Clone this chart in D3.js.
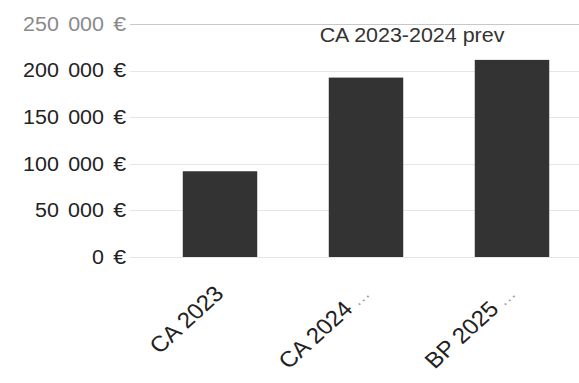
<!DOCTYPE html>
<html>
<head>
<meta charset="utf-8">
<script src="https://cdn.jsdelivr.net/npm/d3@7"></script>
<style>
  html, body { margin: 0; padding: 0; background: #fff; }
  svg { display: block; font-family: "Liberation Sans", Arial, sans-serif; }
</style>
</head>
<body>
<svg id="chart" width="579" height="383"></svg>
<script>
// Revenue by budget document
const categories = ["CA 2023", "CA 2024", "BP 2025"];
const truncated = [false, true, true];
const values = [92000, 192500, 211500];
const yTicks = [0, 50000, 100000, 150000, 200000, 250000];
const title = "CA 2023-2024 prev";

const svg = d3.select("#chart");
const plot = { left: 130, right: 579, top: 24, bottom: 257 };
const stretch = 1.1; // text is set slightly wide

const x = d3.scaleBand()
  .domain(categories)
  .range([147, 585])
  .paddingInner(0.49)
  .paddingOuter(0.245);

const y = d3.scaleLinear()
  .domain([0, 250000])
  .range([plot.bottom, plot.top]);

const fmtNum = d3.format(",");

// horizontal gridlines
svg.append("g")
  .selectAll("line")
  .data(yTicks)
  .join("line")
  .attr("x1", plot.left)
  .attr("x2", plot.right)
  .attr("y1", d => Math.round(y(d)) + 0.5)
  .attr("y2", d => Math.round(y(d)) + 0.5)
  .attr("stroke", d => d === 250000 ? "#c8c8c8" : "#e6e6e6")
  .attr("stroke-width", 1);

// y axis labels
const yl = svg.append("g")
  .selectAll("text")
  .data(yTicks)
  .join("text")
  .attr("transform", d => `translate(126,${y(d)}) scale(${stretch},1)`)
  .attr("text-anchor", "end")
  .attr("dy", "0.35em")
  .attr("font-size", 19.5)
  .attr("word-spacing", 3)
  .attr("fill", d => d === 250000 ? "#8a8a8a" : "#222");
yl.append("tspan").text(d => fmtNum(d).replace(/,/g, " ") + " ");
yl.append("tspan").attr("font-size", 21).text("€");

// bars
svg.append("g")
  .selectAll("rect")
  .data(values)
  .join("rect")
  .attr("x", (d, i) => x(categories[i]))
  .attr("width", x.bandwidth())
  .attr("y", d => y(d))
  .attr("height", d => y(0) - y(d))
  .attr("fill", "#333333");

// x axis labels, rotated
const xl = svg.append("g")
  .selectAll("text")
  .data(categories)
  .join("text")
  .attr("transform", d => `translate(${x(d) + x.bandwidth() / 2 + 5},295) scale(${stretch},1) rotate(-45)`)
  .attr("text-anchor", "end")
  .attr("font-size", 22)
  .attr("fill", "#222");
xl.append("tspan").text(d => d);
xl.filter((d, i) => truncated[i])
  .append("tspan")
  .attr("fill", "#a0a0a0")
  .attr("font-size", 17)
  .text(" \u2026");

// series title
svg.append("text")
  .attr("transform", `translate(412,42) scale(${stretch},1)`)
  .attr("text-anchor", "middle")
  .attr("font-size", 19.5)
  .attr("fill", "#333")
  .text(title);
</script>
</body>
</html>
